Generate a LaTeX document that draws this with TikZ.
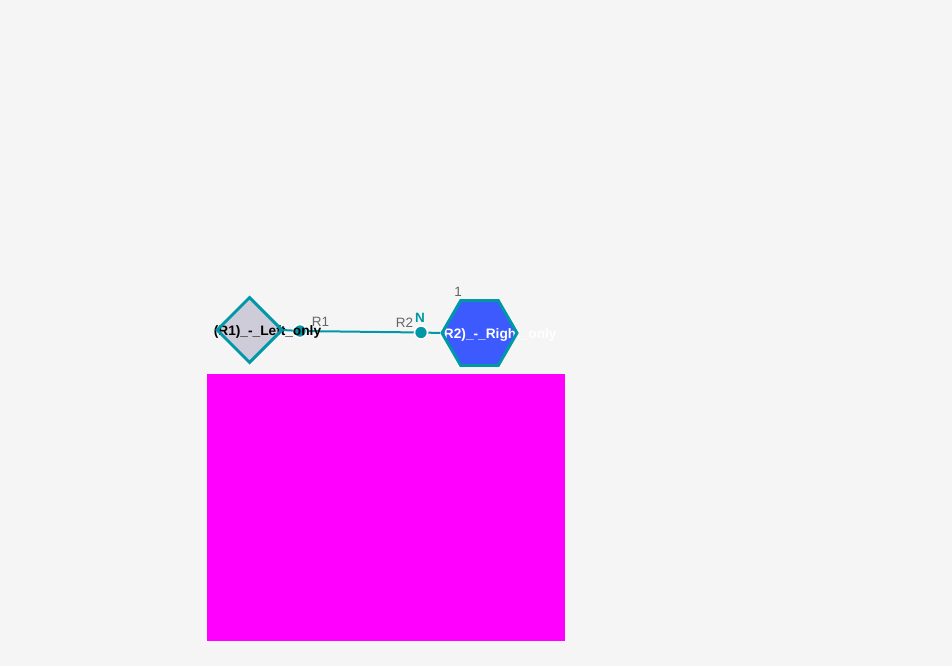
\documentclass[tikz,border=0pt]{standalone}
\usepackage{fontspec}
\setmainfont{Liberation Sans}
\usetikzlibrary{shapes.geometric}
\definecolor{bgc}{HTML}{F5F5F5}
\definecolor{teal1}{HTML}{0097A7}
\definecolor{lilac}{HTML}{CDCCD8}
\definecolor{blue1}{HTML}{3D5AFE}
\definecolor{grey1}{HTML}{666666}
\definecolor{mag}{HTML}{FF00FF}
\tikzset{
  diafill/.style={diamond, minimum width=66pt, minimum height=66pt, inner sep=0pt, aspect=1},
  hexfill/.style={regular polygon, regular polygon sides=6, minimum size=75pt, inner sep=0pt},
  outline/.style={draw=teal1, line width=3pt, fill=none},
  wire/.style={draw=teal1, line width=2pt},
  port/.style={circle, fill=teal1, draw=white, line width=1.5pt, minimum size=13pt, inner sep=0pt},
  shapelabel/.style={font=\fontsize{13.7}{16}\selectfont\bfseries, anchor=base, inner sep=0pt},
  portlabel/.style={font=\fontsize{13.5}{16}\selectfont, text=grey1, anchor=base, inner sep=0pt},
}
\begin{document}
\begin{tikzpicture}[x=1pt, y=-1pt]
\fill[bgc] (0,0) rectangle (952,666);
\useasboundingbox (0,0) rectangle (952,666);
\fill[mag] (207,374) rectangle (565,641);
% shape fills
\node[diafill, fill=lilac] (a) at (249.5,330) {};
\node[hexfill, fill=blue1] (b) at (479.5,333) {};
% ports
\node[port] (p1) at (300,331) {};
\node[port] (p2) at (421,332.5) {};
% connectors
\draw[wire] (a.east) -- (p1.center);
\draw[wire] (p1) -- (p2);
\draw[wire] (p2) -- (b.west);
\node[port] at (p1.center) {};
\node[port] at (p2.center) {};
% texts
\node[shapelabel, text=black] (ta) at (267.5,335.5) {(R1)\_-\_Left\_only};
\node[shapelabel, text=white] (tb) at (498,338) {(R2)\_-\_Right\_only};
% shape outlines
\node[diafill, outline] (a2) at (249.5,330) {};
\node[hexfill, outline] (b2) at (479.5,333) {};
% port labels
\node[portlabel] (l1) at (320.5,326) {R1};
\node[portlabel] (l2) at (404.5,327) {R2};
\node[portlabel, font=\fontsize{13.5}{16}\selectfont\bfseries, text=teal1] (ln) at (420,322) {N};
\node[portlabel] (l3) at (458,296) {1};
\end{tikzpicture}
\end{document}
